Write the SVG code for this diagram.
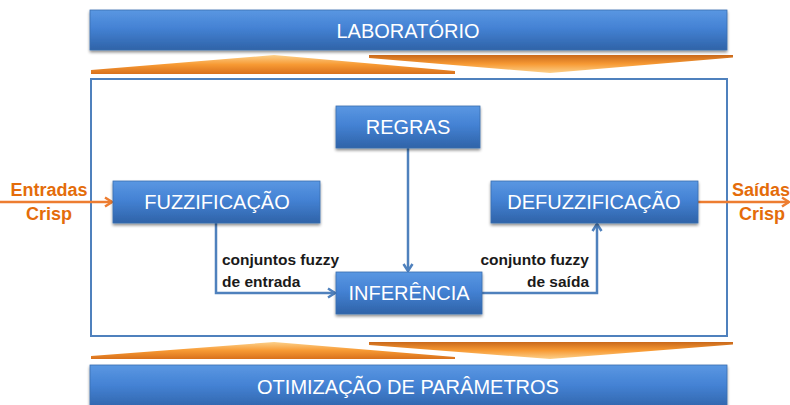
<svg xmlns="http://www.w3.org/2000/svg" width="790" height="405" viewBox="0 0 790 405">
<style>
.bartxt{font-family:"Liberation Sans",Arial,sans-serif;font-size:20px;fill:#fff;text-anchor:middle}
.ntxt{font-family:"Liberation Sans",Arial,sans-serif;font-size:20px;fill:#fff;text-anchor:middle}
.lbl{font-family:"Liberation Sans",Arial,sans-serif;font-size:15.5px;font-weight:bold;fill:#1a1a1a}
.crisp{font-family:"Liberation Sans",Arial,sans-serif;font-size:18px;font-weight:bold;fill:#e46c0a;text-anchor:middle}
.conn{fill:none;stroke:#4f81bd;stroke-width:2.5}
.oconn{fill:none;stroke:#ed7d31;stroke-width:2.5}
.box{fill:url(#blueG);stroke:#3a6eb0;stroke-width:0.8;filter:url(#sh)}
</style>
<defs>
<linearGradient id="blueG" x1="0" y1="0" x2="0" y2="1">
<stop offset="0" stop-color="#5a97e2"/>
<stop offset="0.45" stop-color="#4482d4"/>
<stop offset="1" stop-color="#2f63a8"/>
</linearGradient>
<linearGradient id="upG" x1="0" y1="0" x2="0" y2="1">
<stop offset="0" stop-color="#fcd08a"/>
<stop offset="0.5" stop-color="#f79a34"/>
<stop offset="1" stop-color="#d9711c"/>
</linearGradient>
<linearGradient id="dnG" x1="0" y1="0" x2="0" y2="1">
<stop offset="0" stop-color="#c9681a"/>
<stop offset="0.5" stop-color="#f79a34"/>
<stop offset="1" stop-color="#fcd08a"/>
</linearGradient>
<filter id="sh" x="-10%" y="-20%" width="120%" height="150%">
<feGaussianBlur in="SourceAlpha" stdDeviation="1.5"/>
<feOffset dx="0" dy="2" result="b"/>
<feComponentTransfer><feFuncA type="linear" slope="0.45"/></feComponentTransfer>
<feMerge><feMergeNode/><feMergeNode in="SourceGraphic"/></feMerge>
</filter>
<marker id="ab" viewBox="0 0 12 12" refX="10" refY="6" markerWidth="12" markerHeight="12" markerUnits="userSpaceOnUse" orient="auto">
<path d="M3,1.5 L10,6 L3,10.5" fill="none" stroke="#4f81bd" stroke-width="2.5"/>
</marker>
<marker id="ao" viewBox="0 0 12 12" refX="10" refY="6" markerWidth="12" markerHeight="12" markerUnits="userSpaceOnUse" orient="auto">
<path d="M3,1.5 L10,6 L3,10.5" fill="none" stroke="#ed7d31" stroke-width="2.5"/>
</marker>
</defs>

<g id="laboratorio">
<rect class="box" x="90" y="10" width="637" height="40"/>
<text class="bartxt" x="408" y="38">LABORATÓRIO</text>
</g>

<g id="setas-topo">
<polygon points="91,74 91,70 274,55 455,71 455,74" fill="url(#upG)"/>
<polygon points="369,55 733,55 733,57.5 550,73 369,58" fill="url(#dnG)"/>
</g>

<g id="quadro">
<rect x="91" y="79" width="636" height="257" fill="#fff" stroke="#4f81bd" stroke-width="2"/>
</g>

<g id="setas-base">
<polygon points="91,359 91,356 274,342 455,357 455,359" fill="url(#upG)"/>
<polygon points="369,342 733,342 733,344.5 550,359 369,345" fill="url(#dnG)"/>
</g>

<g id="otimizacao">
<rect class="box" x="90" y="365" width="637" height="45"/>
<text class="bartxt" x="408" y="394">OTIMIZAÇÃO DE PARÂMETROS</text>
</g>

<g id="connectors">
<line class="oconn" x1="0" y1="202" x2="112" y2="202" marker-end="url(#ao)"/>
<line class="oconn" x1="698" y1="202" x2="789" y2="202" marker-end="url(#ao)"/>
<line class="conn" x1="408" y1="148" x2="408" y2="271" marker-end="url(#ab)"/>
<polyline class="conn" points="216,223 216,293 335,293" marker-end="url(#ab)"/>
<polyline class="conn" points="482,293 597,293 597,224" marker-end="url(#ab)"/>
</g>

<g id="regras">
<rect class="box" x="336" y="106" width="144" height="42"/>
<text class="ntxt" x="408" y="134">REGRAS</text>
</g>

<g id="fuzzificacao">
<rect class="box" x="113" y="181" width="207" height="42"/>
<text class="ntxt" x="217" y="209">FUZZIFICAÇÃO</text>
</g>

<g id="defuzzificacao">
<rect class="box" x="491" y="181" width="207" height="42"/>
<text class="ntxt" x="594" y="209">DEFUZZIFICAÇÃO</text>
</g>

<g id="inferencia">
<rect class="box" x="336" y="272" width="146" height="42"/>
<text class="ntxt" x="409" y="300">INFERÊNCIA</text>
</g>

<g id="labels">
<text class="lbl" x="222" y="265">conjuntos fuzzy</text>
<text class="lbl" x="222" y="287">de entrada</text>
<text class="lbl" x="589" y="265" text-anchor="end">conjunto fuzzy</text>
<text class="lbl" x="589" y="287" text-anchor="end">de saída</text>
<text class="crisp" x="49" y="196">Entradas</text>
<text class="crisp" x="49" y="220">Crisp</text>
<text class="crisp" x="761" y="196">Saídas</text>
<text class="crisp" x="762" y="220">Crisp</text>
</g>
</svg>
